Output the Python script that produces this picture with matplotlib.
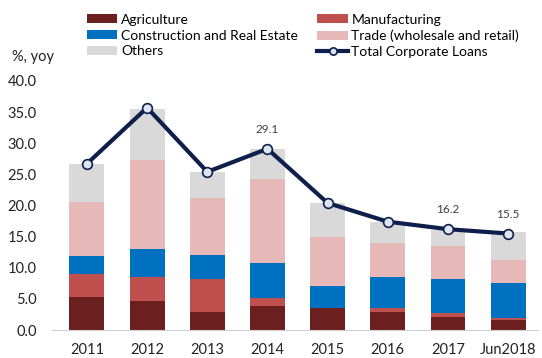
import matplotlib.pyplot as plt
import numpy as np

plt.rcParams["font.family"] = ["Lato", "DejaVu Sans"]

years = ["2011", "2012", "2013", "2014", "2015", "2016", "2017", "Jun2018"]
agriculture = [5.35, 4.7, 2.95, 3.85, 3.5, 2.95, 2.15, 1.6]
manufacturing = [3.6, 3.9, 5.2, 1.35, 0.0, 0.55, 0.55, 0.4]
construction = [2.95, 4.4, 3.9, 5.5, 3.55, 5.1, 5.45, 5.6]
trade = [8.6, 14.3, 9.15, 13.5, 7.95, 5.3, 5.4, 3.65]
others = [6.2, 8.2, 4.25, 4.9, 5.4, 3.5, 2.55, 4.45]
total = [26.7, 35.7, 25.4, 29.1, 20.4, 17.4, 16.2, 15.5]
labelled = ["2014", "2017", "Jun2018"]

series = [
    ("Agriculture", agriculture, "#6b1f1f"),
    ("Manufacturing", manufacturing, "#c0504d"),
    ("Construction and Real Estate", construction, "#0070c0"),
    ("Trade (wholesale and retail)", trade, "#e6b9b8"),
    ("Others", others, "#d9d9d9"),
]

fig = plt.figure(figsize=(5.42, 3.58), dpi=100)
ax = fig.add_axes([0.096, 0.078, 0.897, 0.696])

x = np.arange(len(years))
bottom = np.zeros(len(years))
bars = {}
for name, vals, color in series:
    bars[name] = ax.bar(x, vals, 0.58, bottom=bottom, color=color, label=name)
    bottom += np.array(vals)

line, = ax.plot(x, total, color="#0f1f4b", lw=3, marker="o", ms=7,
                mfc="#dce6f2", mec="#0f1f4b", mew=1.2, label="Total Corporate Loans")

for i, yr in enumerate(years):
    if yr in labelled:
        ax.annotate(f"{total[i]:.1f}", (x[i], total[i]), xytext=(0, 10),
                    textcoords="offset points", ha="center", va="bottom",
                    fontsize=8.5, color="#404040")

ax.set_ylim(0, 40)
ax.set_xlim(-0.58, 7.5)
ax.set_yticks(np.arange(0, 40.1, 5))
ax.set_yticklabels([f"{v:.1f}" for v in np.arange(0, 40.1, 5)])
ax.set_xticks(x)
ax.set_xticklabels(years)
ax.tick_params(axis="both", length=0, labelsize=10.5, colors="#222222")
ax.tick_params(axis="x", pad=9)
ax.tick_params(axis="y", pad=11)
for s in ["top", "right", "left"]:
    ax.spines[s].set_visible(False)
ax.spines["bottom"].set_color("#d0d0d0")

fig.text(0.022, 0.84, "%, yoy", fontsize=10.5, color="#222222", va="center")

# two legend columns, filled column by column
order = ["Agriculture", "Construction and Real Estate", "Others",
         "Manufacturing", "Trade (wholesale and retail)"]
handles = [bars[n] for n in order] + [line]
labels = order + ["Total Corporate Loans"]
fig.legend(handles, labels, ncol=2, loc="upper left", bbox_to_anchor=(0.145, 0.985),
           frameon=False, fontsize=10, handlelength=2.2, handleheight=0.6,
           handletextpad=0.25, labelspacing=0.28, columnspacing=1.4,
           borderaxespad=0.2, markerscale=0.75)

fig.savefig("out.png", dpi=100)
